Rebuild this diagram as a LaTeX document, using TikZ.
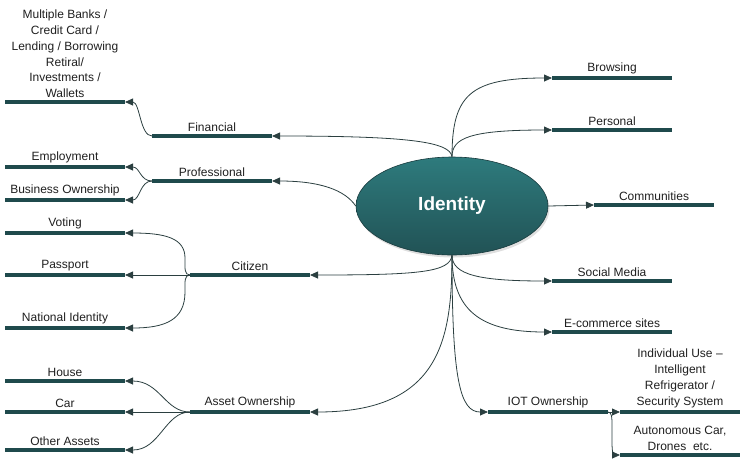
\documentclass[tikz,border=0pt]{standalone}
\usepackage{fontspec}
\setmainfont{Liberation Sans}
\usetikzlibrary{arrows.meta,shadows,shapes.geometric}
\definecolor{barc}{HTML}{1F4A4C}
\definecolor{connc}{HTML}{2B3F40}
\definecolor{elltop}{HTML}{2E7B7D}
\definecolor{ellbot}{HTML}{215255}
\newcommand\mkbar[4]{%
  \coordinate (#1w) at (#2-60,-#3);
  \coordinate (#1e) at (#2+60,-#3);
  \draw[barline] (#1w) -- (#1e);
  \node[lbl] (#1) at (#2,-#3+2) {#4};}
\begin{document}
\begin{tikzpicture}[x=1pt,y=1pt,
  lbl/.style={anchor=south, inner sep=2pt, font=\fontsize{12}{15.8}\selectfont, align=center, text=black!88},
  barline/.style={line width=4pt, draw=barc},
  con/.style={draw=connc, line width=0.8pt, -{Triangle[length=8pt,width=7pt]}},
  idnode/.style={ellipse, minimum width=192pt, minimum height=98pt, inner sep=0pt,
    top color=elltop, bottom color=ellbot, draw=ellbot!70!black, line width=0.6pt,
    drop shadow={shadow xshift=1.5pt, shadow yshift=-2.5pt, opacity=0.25},
    text=white, font=\bfseries\fontsize{19}{23}\selectfont}
]
\useasboundingbox (0,0) rectangle (743,-459);
\node[idnode] (id) at (452,-206) {Identity};
% left bars
\mkbar{banks}{65}{102}{Multiple Banks /\\Credit Card /\\Lending / Borrowing\\Retiral/\\Investments /\\Wallets}
\mkbar{fin}{212}{136}{Financial}
\mkbar{emp}{65}{167}{Employment}
\mkbar{bus}{65}{200}{Business Ownership}
\mkbar{prof}{212}{181}{Professional}
\mkbar{vot}{65}{233}{Voting}
\mkbar{pass}{65}{275}{Passport}
\mkbar{nat}{65}{328}{National Identity}
\mkbar{cit}{250}{275}{Citizen}
\mkbar{house}{65}{381}{House}
\mkbar{car}{65}{412}{Car}
\mkbar{other}{65}{450}{Other Assets}
\mkbar{asset}{250}{412}{Asset Ownership}
% right bars
\mkbar{brow}{612}{78}{Browsing}
\mkbar{pers}{612}{130}{Personal}
\mkbar{comm}{654}{205}{Communities}
\mkbar{soc}{612}{281}{Social Media}
\mkbar{ecom}{612}{332}{E-commerce sites}
\mkbar{iot}{548}{412}{IOT Ownership}
\mkbar{indiv}{680}{412}{Individual Use --\\Intelligent\\Refrigerator /\\Security System}
\mkbar{auto}{680}{455}{Autonomous Car,\\Drones\ \ etc.}
% main connectors
\draw[con] (id.north) .. controls (450,-142) and (410,-136) .. (fine);
\draw[con] (id.north) .. controls (452,-95) and (470,-78) .. (broww);
\draw[con] (id.north) .. controls (452,-138) and (470,-130) .. (persw);
\draw[con] (id.east) -- (commw);
\draw[con] (id.west) .. controls (345,-190) and (320,-181) .. (profe);
\draw[con] (id.south) .. controls (450,-272) and (420,-275) .. (cite);
\draw[con] (id.south) .. controls (452,-340) and (440,-412) .. (assete);
\draw[con] (id.south) .. controls (452,-275) and (480,-281) .. (socw);
\draw[con] (id.south) .. controls (452,-310) and (480,-332) .. (ecomw);
\draw[con] (id.south) .. controls (452,-380) and (460,-412) .. (iotw);
% sub connectors
\draw[con] (finw) .. controls (140,-136) and (140,-102) .. (bankse);
\draw[con] (profw) .. controls (140,-181) and (140,-167) .. (empe);
\draw[con] (profw) .. controls (140,-181) and (140,-200) .. (buse);
\draw[con] (citw) .. controls (184,-275) and (185,-268) .. (185,-258) .. controls (185,-238) and (165,-233) .. (vote);
\draw[con] (citw) .. controls (184,-275) and (185,-282) .. (185,-292) .. controls (185,-320) and (165,-328) .. (nate);
\draw[con] (citw) -- (passe);
\draw[con] (assetw) .. controls (165,-412) and (160,-381) .. (housee);
\draw[con] (assetw) -- (care);
\draw[con] (assetw) .. controls (165,-412) and (160,-450) .. (othere);
\draw[con] (iote) -- (indivw);
\draw[con] (iote) .. controls (612,-412) and (612,-418) .. (612,-425) -- (612,-445) .. controls (612,-452) and (614,-455) .. (autow);
\end{tikzpicture}
\end{document}
